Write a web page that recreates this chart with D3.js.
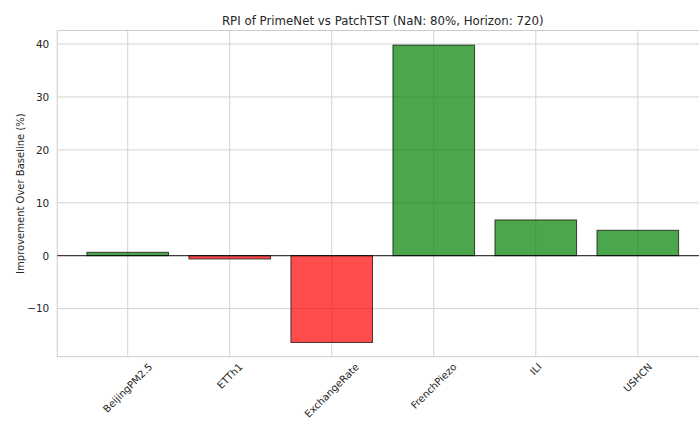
<!DOCTYPE html>
<html>
<head>
<meta charset="utf-8">
<script src="https://cdn.jsdelivr.net/npm/d3@7"></script>
<style>
  html, body { margin: 0; padding: 0; background: #fff; }
  svg { display: block; font-family: "DejaVu Sans", sans-serif; }
</style>
</head>
<body>
<svg id="chart" width="699" height="421"></svg>
<script>
// Relative performance improvement of PrimeNet over PatchTST per dataset
const datasets = ["BeijingPM2.5", "ETTh1", "ExchangeRate", "FrenchPiezo", "ILI", "USHCN"];
const improvement = [0.64, -0.62, -16.4, 39.8, 6.75, 4.8];
const yTicks = [-10, 0, 10, 20, 30, 40];

const titleText = "RPI of PrimeNet vs PatchTST (NaN: 80%, Horizon: 720)";
const yLabelText = "Improvement Over Baseline (%)";

const svg = d3.select("#chart");
const plot = { left: 57.3, top: 30.5, right: 708.2, bottom: 356.7 };
const ink = "#262626";
const gridColor = "#d4d4d4";

const x = d3.scaleBand()
  .domain(datasets)
  .range([plot.left, plot.right])
  .paddingInner(0.2)
  .paddingOuter(0.29);

const y = d3.scaleLinear()
  .domain([-19.09, 42.56])
  .range([plot.bottom, plot.top]);

// grid
const grid = svg.append("g");
grid.selectAll("line.h").data(yTicks).join("line")
  .attr("x1", plot.left).attr("x2", plot.right)
  .attr("y1", d => y(d)).attr("y2", d => y(d))
  .attr("stroke", gridColor).attr("stroke-width", 1);
grid.selectAll("line.v").data(datasets).join("line")
  .attr("x1", d => x(d) + x.bandwidth() / 2).attr("x2", d => x(d) + x.bandwidth() / 2)
  .attr("y1", plot.top).attr("y2", plot.bottom)
  .attr("stroke", gridColor).attr("stroke-width", 1);

// frame
svg.append("rect")
  .attr("x", plot.left).attr("y", plot.top)
  .attr("width", plot.right - plot.left).attr("height", plot.bottom - plot.top)
  .attr("fill", "none").attr("stroke", "#cccccc").attr("stroke-width", 1);

// bars
svg.append("g").selectAll("rect").data(datasets.map((d, i) => ({ name: d, value: improvement[i] })))
  .join("rect")
  .attr("x", d => x(d.name))
  .attr("width", x.bandwidth())
  .attr("y", d => y(Math.max(0, d.value)))
  .attr("height", d => Math.abs(y(d.value) - y(0)))
  .attr("fill", d => d.value >= 0 ? "green" : "red")
  .attr("fill-opacity", 0.7)
  .attr("stroke", "black")
  .attr("stroke-opacity", 0.7)
  .attr("stroke-width", 1);

// zero reference line
svg.append("line")
  .attr("x1", plot.left).attr("x2", plot.right)
  .attr("y1", y(0)).attr("y2", y(0))
  .attr("stroke", "black").attr("stroke-width", 0.9);

// y axis
const yAxis = d3.axisLeft(y).tickValues(yTicks).tickSize(0).tickPadding(8)
  .tickFormat(d => d < 0 ? "\u2212" + Math.abs(d) : String(d));
const yg = svg.append("g").attr("transform", `translate(${plot.left},0)`).call(yAxis);
yg.select(".domain").remove();
yg.selectAll("text").attr("fill", ink).attr("font-size", 10.5).attr("font-family", "DejaVu Sans");

// x axis labels, rotated 45 degrees and centered under each tick
const fs = 10;
const xg = svg.append("g");
xg.selectAll("text").data(datasets).join("text")
  .text(d => d)
  .attr("font-size", fs)
  .attr("fill", ink)
  .attr("text-anchor", "middle")
  .attr("dominant-baseline", "central")
  .each(function (d) {
    const len = this.getComputedTextLength();
    const h = fs * 0.95;
    const boxH = (len + h) / Math.SQRT2;
    const cx = x(d) + x.bandwidth() / 2;
    const cy = plot.bottom + 5 + boxH / 2;
    d3.select(this).attr("transform", `translate(${cx},${cy}) rotate(-45)`);
  });

// title
svg.append("text")
  .attr("x", (plot.left + plot.right) / 2).attr("y", 24.5)
  .attr("text-anchor", "middle")
  .attr("font-size", 11.8).attr("fill", ink)
  .text(titleText);

// y label
svg.append("text")
  .attr("transform", `translate(23.5,${(plot.top + plot.bottom) / 2}) rotate(-90)`)
  .attr("text-anchor", "middle")
  .attr("font-size", 10).attr("fill", ink)
  .text(yLabelText);
</script>
</body>
</html>
